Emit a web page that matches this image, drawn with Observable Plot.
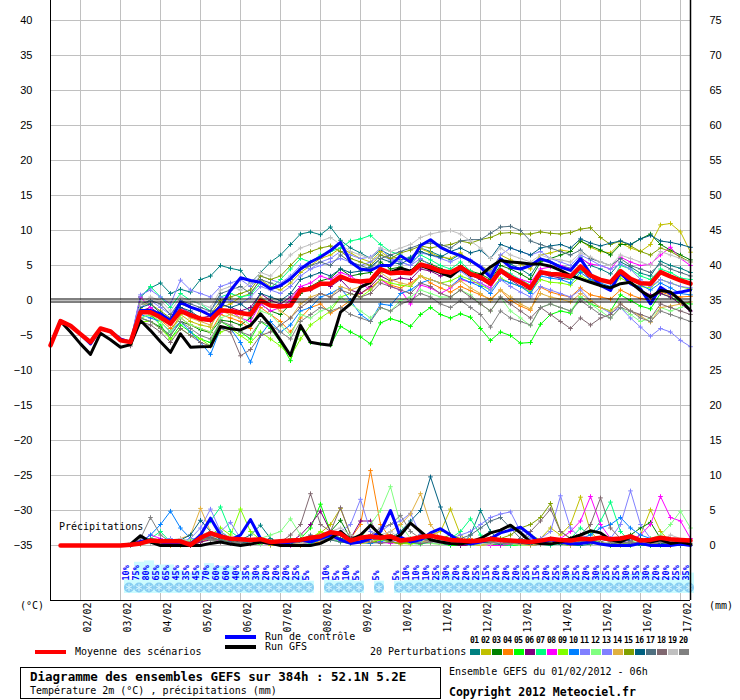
<!DOCTYPE html>
<html><head><meta charset="utf-8">
<script src="https://cdn.jsdelivr.net/npm/d3@7"></script>
<script src="https://cdn.jsdelivr.net/npm/@observablehq/plot@0.6"></script>
<style>
body{margin:0;background:#fff;}
#wrap{position:relative;width:740px;height:700px;overflow:hidden;font-family:"DejaVu Sans Mono",monospace;color:#000;}
#chart{position:absolute;left:0;top:0;}
.t{position:absolute;white-space:nowrap;font-size:10px;line-height:10px;color:#000;}
.bar{position:absolute;}
</style></head><body><div id="wrap"><div id="chart"></div></div>
<script>
// ---------- DATA ----------
const dayLabels = ["02/02","03/02","04/02","05/02","06/02","07/02","08/02","09/02","10/02","11/02","12/02","13/02","14/02","15/02","16/02","17/02"];
const tempTicks = [-35,-30,-25,-20,-15,-10,-5,0,5,10,15,20,25,30,35,40];

// 2m temperature, every 6h from 01/02 06h (h=0) to h=384
const meanTemp = [-6.4,-2.95,-3.6,-4.8,-5.95,-4.0,-4.4,-5.7,-5.95,-1.67, -1.67,-2.4,-3.3,-1.5,-2.1,-2.6,-2.8,-1.4,-1.5,-1.8, -2.0,0.0,-0.7,-0.86,-0.7,1.43,1.67,2.4,2.4,3.43, 2.86,2.7,2.86,4.5,3.9,4.0,3.9,5.14,4.76,4.2, 4.0,4.76,3.8,3.33,2.4,4.3,3.33,2.6,1.8,4.05, 3.8,3.7,3.43,4.86,3.57,2.95,2.6,4.2,3.1,2.48, 2.4,4.05,3.43,2.86,2.4];
const controlTemp = [-6.4,-2.95,-3.6,-4.8,-6.2,-4.0,-4.4,-5.5,-6.0,-1.43, -1.43,-1.9,-2.86,-0.24,-0.95,-1.43,-2.14,-0.95,1.43,3.24, 2.86,2.6,1.67,2.14,3.1,4.5,5.5,6.2,7.14,8.3, 5.5,4.5,4.3,5.0,5.0,6.4,5.5,7.86,8.67,7.6, 6.9,6.4,5.7,4.76,3.33,5.95,4.76,4.5,5.0,5.95, 5.5,4.76,4.3,5.95,3.8,2.14,1.43,4.05,2.4,1.67, -0.48,1.9,0.95,1.2,1.5];
const gfsTemp = [-6.4,-2.95,-4.5,-6.2,-7.7,-4.67,-5.6,-6.67,-6.3,-2.86, -4.3,-5.9,-7.4,-4.76,-6.67,-6.6,-6.57,-3.7,-4.05,-4.2, -3.57,-1.9,-3.57,-5.7,-7.86,-3.57,-5.95,-6.2,-6.4,-1.67, -0.48,1.9,2.6,4.3,4.0,4.6,4.2,5.0,4.5,4.0, 3.4,4.6,3.6,3.6,4.8,5.7,5.5,5.4,5.2,5.2, 4.9,4.3,3.57,3.1,2.6,2.14,1.8,2.4,2.6,1.43, 0.48,1.43,1.2,0.0,-1.43];

// 20 perturbations, every 6h from h=48 to h=384
const pertTemp = [
 [-5.8,0.5,1.8,2.5,1.0,1.6,1.2,3.0,3.5,5.0, 4.6,4.3,2.5,4.0,5.5,6.5,8.0,9.5,9.8,9.4, 10.5,8.6,7.5,6.8,6.0,7.2,6.5,5.8,6.2,7.5, 7.0,6.4,5.8,6.6,5.5,5.0,3.8,6.0,5.2,4.5, 3.6,5.8,5.5,5.0,4.6,6.2,5.0,4.5,3.8,5.5, 4.8,3.9,3.5,5.6,5.0,4.6,4.0],
 [-6.0,-1.0,-2.2,-3.0,-4.5,-2.0,-3.0,-3.5,-3.8,-1.0, -0.5,0.5,1.0,3.0,2.0,1.5,2.5,4.0,5.0,6.0, 6.5,7.5,6.8,6.0,5.5,7.0,6.0,6.2,5.8,7.4, 6.8,6.2,6.0,6.8,5.6,5.0,4.2,6.5,5.8,5.2, 4.5,6.5,6.8,7.2,7.0,8.5,7.6,7.0,6.8,8.2, 7.5,7.0,8.0,10.8,11.0,9.8,6.9],
 [-6.2,-2.5,-3.0,-3.8,-5.0,-3.0,-3.5,-4.2,-4.6,-2.8, -3.0,-3.5,-2.5,-0.5,-1.5,-2.0,-0.5,1.0,2.0,2.8, 3.2,4.5,3.5,3.8,4.0,5.5,4.5,4.8,4.2,5.8, 5.2,4.6,4.0,5.0,4.2,3.8,3.0,5.0,4.5,3.8, 3.0,5.5,6.0,6.5,7.0,8.5,7.8,7.2,6.5,8.0, 8.0,8.8,9.5,8.0,7.2,6.5,5.8],
 [-6.0,-2.0,-1.5,-2.8,-4.0,-2.5,-3.5,-4.0,-4.5,-2.0, -2.5,-3.0,-4.0,-1.0,-2.0,-3.0,-4.5,-2.5,-1.0,-0.5, -1.8,-1.0,0.0,1.0,1.8,3.0,2.2,1.8,2.5,3.5, 2.5,1.8,1.2,2.0,1.4,0.8,0.2,1.5,0.0,-0.8, -1.4,1.9,1.2,0.8,0.5,1.8,0.8,0.5,0.2,1.5, 0.8,0.3,0.0,1.2,0.8,0.5,0.6],
 [-6.0,-2.5,-2.0,-3.5,-5.5,-3.5,-4.5,-5.5,-6.0,-3.0, -3.8,-4.5,-5.5,-3.0,-4.0,-6.0,-8.6,-4.0,-6.0,-6.2, -6.4,-3.7,-4.5,-5.2,-6.2,-3.2,-2.6,-3.0,-3.7,-2.0, -1.0,-2.0,-2.5,-1.9,-2.4,-4.0,-5.7,-4.5,-5.0,-6.1, -6.0,-3.4,-2.0,-1.5,-1.8,0.5,-0.5,-1.0,-1.5,0.8, 0.0,-0.8,-1.2,1.0,0.5,-0.2,-0.5],
 [-6.0,-1.5,-1.0,-2.0,-3.0,-1.0,-1.8,-2.5,-2.2,-0.5, -1.0,-1.5,-1.0,1.0,0.0,-0.5,0.5,2.0,1.5,2.5, 2.0,3.0,1.5,1.0,2.0,3.5,2.8,3.2,3.0,4.5, 4.2,3.5,3.8,4.5,3.6,3.0,2.2,4.0,3.0,2.0, 1.5,3.8,3.5,3.2,3.0,4.5,3.0,2.2,1.8,3.6, 2.6,1.5,0.8,1.0,0.5,-0.5,-1.5],
 [-6.0,0.5,2.0,0.5,-1.0,1.0,0.0,-0.5,-1.5,0.5, 1.0,0.5,0.8,2.5,1.8,3.0,4.5,6.0,5.5,6.5, 7.0,7.5,8.5,8.8,9.3,8.0,7.0,6.5,5.5,6.5, 5.8,5.0,4.5,5.5,4.2,3.5,2.5,4.5,3.8,3.0, 2.2,4.2,3.8,3.5,3.0,4.2,3.5,2.8,2.5,5.0, 4.5,3.5,3.0,4.5,4.0,3.2,3.0],
 [-6.0,0.5,-1.0,-2.5,-3.5,-1.0,-2.0,-2.8,-3.0,-1.8, -1.5,-2.5,-3.0,-0.5,-1.5,-1.0,0.0,2.0,2.5,3.5, 3.0,4.0,3.5,2.5,1.5,3.0,2.0,1.5,-0.5,2.2, 1.8,1.0,1.8,3.0,2.6,2.5,1.8,4.0,3.5,3.0, 2.6,4.5,4.8,5.0,4.5,6.0,5.2,5.0,4.5,6.2, 5.5,5.0,5.2,6.5,7.6,6.0,5.0],
 [-6.2,-3.0,-3.0,-4.0,-5.5,-4.0,-5.0,-5.5,-6.5,-4.5, -4.0,-5.0,-6.0,-4.5,-5.5,-6.5,-8.0,-5.5,-3.5,-2.5, -1.5,0.5,1.0,0.5,1.5,3.0,2.5,2.2,2.0,3.5, 3.0,2.5,2.8,3.5,3.0,2.2,1.5,3.2,2.5,2.0, 1.2,3.0,2.6,2.5,2.2,3.5,2.8,2.2,1.8,3.2, 2.5,2.0,1.8,3.0,2.5,2.0,1.6],
 [-6.0,-2.0,-2.5,-3.0,-4.5,-3.0,-4.5,-6.0,-7.7,-4.0, -4.0,-6.0,-8.8,-5.0,-3.0,-4.5,-3.5,-1.5,-1.0,0.5, 1.0,1.8,0.0,-2.0,-3.0,-0.5,-0.7,1.0,1.5,2.5, 3.0,2.5,2.0,3.2,2.6,2.0,1.0,3.0,2.5,2.0, 1.0,3.5,3.2,3.0,2.5,4.0,3.0,2.5,2.0,3.8, 3.0,2.2,1.5,2.5,1.8,1.0,0.8],
 [-5.8,0.8,1.5,0.5,-0.5,2.9,1.5,1.0,0.5,2.0, 2.5,3.0,2.0,3.5,3.0,2.5,3.5,5.0,4.5,5.5, 6.0,7.0,6.5,6.0,6.2,7.5,6.0,5.5,5.0,6.0, 5.0,4.2,3.5,4.2,3.2,2.5,1.5,3.0,2.0,1.2, 0.5,2.0,1.5,1.0,0.5,1.5,0.0,-1.0,-1.8,-1.0, -2.5,-3.8,-5.1,-4.0,-4.5,-5.7,-6.6],
 [-6.0,-2.5,-2.0,-3.0,-4.5,-2.5,-3.5,-4.0,-4.5,-2.5, -2.0,-2.5,-3.5,-1.5,-2.0,-3.5,-5.0,-2.0,-2.5,-1.5, -1.0,0.5,-0.5,-1.5,-2.5,-1.0,-1.5,0.0,0.5,1.5, 1.0,0.5,0.5,1.5,0.8,-0.5,-1.5,0.5,-1.5,-2.5, -3.6,-1.0,-0.5,-1.0,-1.5,0.5,-0.5,-1.5,-2.5,-1.0, -2.0,-3.0,-2.5,-1.0,-1.5,-1.0,-0.5],
 [-6.0,-1.0,0.0,-1.0,-2.0,-0.5,-1.0,-1.5,-1.5,0.5, 0.0,-0.5,0.5,2.0,1.5,1.0,2.0,3.5,4.5,5.0, 5.5,6.0,5.5,5.0,5.5,6.5,5.8,5.5,5.0,6.8, 6.5,6.0,5.5,6.2,5.8,5.0,4.0,6.5,7.5,7.0, 6.5,7.0,6.0,5.5,5.0,6.5,5.8,5.0,4.5,5.2, 4.5,3.0,2.0,3.0,2.5,2.0,1.8],
 [-6.0,-1.5,-2.0,-2.5,-3.5,-1.5,-2.5,-3.0,-3.5,-1.5, -2.0,-2.5,-1.5,0.5,-0.5,-1.5,-2.5,-0.5,0.5,1.0, 0.5,2.0,1.5,2.0,2.5,4.0,3.0,2.5,2.2,3.5, 3.0,2.5,2.0,2.8,1.8,1.0,0.0,1.5,0.5,-0.5, -1.2,1.0,0.5,0.2,-0.2,1.0,0.0,-1.0,-1.5,-0.5, -1.5,-2.2,-3.1,-1.0,-0.8,-0.5,-0.2],
 [-6.0,-0.5,-0.5,-1.5,-2.5,-0.5,-1.0,-1.5,-2.0,0.0, 0.5,1.0,1.5,3.5,3.0,3.5,5.0,6.5,7.0,7.5, 7.8,7.0,6.0,5.5,5.0,6.5,6.0,6.8,7.2,7.8, 7.5,7.8,8.0,8.5,8.2,8.7,9.0,9.6,9.7,9.5, 9.5,9.8,9.6,9.5,9.7,10.2,10.4,9.0,8.0,8.5, 7.8,7.0,6.5,7.5,7.0,6.2,5.5],
 [-6.0,-1.0,-0.5,-1.8,-3.0,-1.0,-1.5,-2.5,-2.8,-0.5, -1.0,-0.5,-1.5,1.0,0.5,0.0,1.0,3.0,3.5,4.0, 3.5,4.5,4.0,4.2,4.8,6.0,5.5,5.2,6.0,7.0, 6.5,6.2,7.0,7.5,6.8,7.2,6.0,8.0,7.5,7.0, 6.5,7.5,7.8,8.0,7.5,8.8,8.2,7.8,8.2,8.5, 8.0,8.8,9.3,8.5,8.3,8.0,7.6],
 [-6.0,-0.5,0.0,-0.5,-2.0,0.0,-0.5,-1.0,-1.5,1.0, 1.5,2.0,1.0,3.0,2.5,2.0,3.0,4.5,5.0,5.5, 5.0,6.5,5.5,5.0,4.5,6.0,6.5,7.0,7.5,8.0, 8.2,8.0,7.5,8.5,8.7,8.7,9.6,10.5,10.6,10.0, 8.5,8.0,7.5,7.0,6.5,7.2,6.0,5.5,5.0,6.0, 5.0,4.5,4.0,5.2,4.5,4.0,3.5],
 [-6.5,-3.0,-3.5,-4.5,-6.0,-4.0,-5.0,-6.0,-6.5,-4.0, -4.5,-7.9,-7.0,-5.0,-4.5,-3.5,-2.5,-1.0,0.0,1.0, 0.5,1.5,1.0,0.5,1.0,2.5,2.0,1.5,1.0,2.5, 2.0,1.0,0.5,1.5,0.5,-0.5,-1.5,0.5,-0.5,-1.5, -2.5,-1.0,-2.0,-3.0,-4.0,-2.5,-3.5,-2.5,-2.0,-0.5, -1.5,-2.0,-2.5,-0.5,-1.0,-1.5,-2.0],
 [-6.0,-0.5,0.5,0.0,-1.5,0.5,0.0,-0.5,-1.0,1.5, 2.0,1.5,2.5,4.0,3.5,5.0,6.5,7.5,8.0,8.5, 9.0,8.0,7.0,6.5,6.0,7.5,7.0,7.5,8.0,9.0, 9.5,9.8,10.0,9.5,8.5,7.5,6.0,7.5,6.5,6.0, 5.5,6.5,6.0,5.8,5.5,6.8,6.2,5.5,5.0,6.5, 6.0,5.5,5.0,7.0,6.5,6.0,5.5],
 [-6.2,-2.5,-3.0,-4.0,-5.0,-3.0,-4.0,-5.0,-5.5,-3.0, -3.5,-4.5,-5.0,-3.0,-3.5,-4.5,-5.5,-3.0,-2.0,-1.0, -1.5,-1.0,-2.0,-2.5,-3.0,-1.0,-1.5,-0.5,0.0,1.0, 0.5,-0.5,-1.0,0.0,-1.0,-2.0,-3.8,-1.5,-2.5,-3.0, -3.5,-1.0,-0.5,-1.0,-1.5,0.0,-1.0,-2.0,-2.5,-1.0, -1.5,-2.5,-3.0,-1.5,-2.0,-2.5,-3.0]
];

// 6h precipitation (mm), from h=6 to h=384
const meanPrecip = [0,0,0,0,0,0,0, 0.1,0.3,0.7,0.6,0.6,0.6,0.1,1.1,1.76,1.3, 0.95,0.9,0.8,0.9,0.5,0.6,0.7,0.8,1.1,1.3, 1.9,1.67,0.7,1.1,1.3,1.1,1.3,0.7,0.9,1.2, 1.4,1.1,0.8,0.7,0.6,0.7,0.95,0.8,0.7,0.6, 0.5,0.7,0.95,0.8,0.7,0.95,0.9,1.1,0.9,1.0, 1.3,0.7,0.8,1.1,0.9,0.8,0.7];
const controlPrecip = [0,0,0,0,0,0,0, 0,0.6,0.8,0.5,0.3,0.5,0.2,1.5,3.9,1.5, 0.8,1.5,3.7,1.0,0.3,0.2,0.5,0.8,0.5,1.0, 1.5,0.8,0.3,0.5,1.0,2.0,5.0,1.2,0.5,0.8, 1.8,2.4,1.5,0.5,0.2,0.5,1.0,1.8,2.2,2.6, 1.5,0.3,0.8,0.5,0.2,0.3,0.5,0.2,0,0, 0,0.3,0,0,0,0.2,0];
const gfsPrecip = [0,0,0,0,0,0,0, 0.2,1.4,0.5,0,0,0,0,0,0.3,0.5, 0.2,0,0.2,0.5,0.3,0,0,0,0,0.3, 1.0,2.0,0.8,1.5,2.9,1.5,0.8,1.5,3.2,2.0, 0.8,0.5,0.3,0.2,0.5,1.0,1.8,2.2,2.9,1.8, 0.5,0.3,0.2,0.5,1.0,1.5,2.1,1.8,0.8,0.5, 1.2,0.8,0.5,0.8,0.3,0.5,0.2];

// perturbation precipitation, from h=48 to h=384
const pertPrecip = [
 [0,0.5,1.0,0.8,0.5,0.3,0,0.5,1.5,1.0, 0.5,0.8,1.5,2.9,1.0,0.3,0,0,0.2,0.8, 1.5,1.0,0.5,0.3,0.8,1.2,0.5,0.3,0.8,1.5, 1.0,0.5,0.2,0,1.5,5.0,2.0,0.5,0.3,0, 0,0.2,0.5,0.3,0,0,0.2,0.5,0,0, 0.3,0,0,0.2,0,0,0],
 [0,0.3,0.5,0.2,0,0,0,0.8,1.2,0.5, 0.3,0.5,0.8,0.5,0,0,0.2,0.5,1.0,1.8, 3.0,5.3,1.5,0.5,0.8,1.0,0.5,0.2,0.5,1.0, 1.5,2.0,5.2,1.5,0.3,0,0.2,0.5,0.3,0.2, 0.5,1.0,2.5,1.5,3.0,6.9,2.0,0.5,0.3,0.2, 0.5,1.5,5.1,2.0,0.5,0.3,0],
 [0,0.5,0.3,0.2,0.3,0.5,0.2,0.8,1.8,1.0, 0.5,0.3,0.5,0.8,0.3,0,0,0.2,0.5,1.5, 2.0,3.6,1.0,0.5,0.3,0.8,1.0,0.5,0.3,0.8, 1.0,0.5,0.3,0.2,0,0.3,0.5,0.2,0,0, 0.2,0.5,1.0,0.8,0.5,1.2,0.8,0.3,0.5,1.0, 1.5,2.5,3.3,1.0,0.3,0.2,0],
 [0,0.3,0.5,0.2,0,0.2,0,0.5,1.0,1.5, 0.8,0.5,0.3,0.5,0.2,0,0,0,0.3,0.5, 1.0,1.5,1.0,3.0,10.7,3.0,1.0,0.5,0.3,0.5, 0.8,0.5,0.3,0.5,1.0,0.5,0.2,0,0,0.3, 0.5,0.3,0.2,0.5,0.8,0.5,0.3,0.2,0,0, 0.2,0.3,0.5,0.2,0,0,0],
 [0,0.2,0.5,0.3,0.5,0.8,0.3,1.0,1.5,2.0, 1.0,0.5,0.3,0.2,0.5,0.3,0.5,1.0,2.5,5.9, 2.0,1.0,0.5,0.3,0.5,0.8,1.5,0.8,0.3,0.2, 0.5,0.3,0,0,0.2,0.5,0.3,0,0,0, 0.2,0.3,0.5,0.2,0,0.3,0.5,0.2,0,0, 0,0.2,0,0,0.3,0,0],
 [0,0.3,0.8,0.5,0.3,0.2,0,0.5,0.8,0.5, 0.3,0.5,1.0,0.5,0.2,0,0.5,1.5,3.0,4.9, 2.0,1.5,1.0,3.5,3.5,1.0,0.5,0.3,0.5,0.8, 0.5,0.3,0.2,0,0,0.3,0.5,0.8,0.5,0.3, 0,0.2,0.5,0.3,0.5,1.0,0.5,0.3,0.2,0.5, 1.0,0.5,0.3,0.5,0.2,0,0],
 [0,0.5,1.0,2.0,0.5,0.8,0.5,1.5,3.5,5.5, 2.0,1.0,0.5,0.8,0.5,0.3,1.0,0.5,0.3,0.8, 1.0,0.5,0.3,0.5,1.0,0.8,0.5,0.3,0.5,1.0, 0.8,0.5,1.0,2.0,3.8,1.5,0.5,0.2,0,0.3, 0.5,0.2,0,0.3,1.0,2.5,1.5,3.5,6.2,2.0, 0.5,0.3,0.2,0.5,0.3,0,0],
 [0,0.5,1.5,1.0,0.5,0.3,0.2,0.8,1.2,0.5, 0.3,0.5,0.8,0.3,0.2,0,0,0.3,0.5,1.0, 1.5,1.0,0.5,0.8,1.0,0.5,0.3,0.5,0.8,1.2, 1.0,0.5,0.3,0.2,0.5,0.3,0,0,0.2,0.5, 0.3,0.2,0.5,1.0,2.0,3.5,7.0,3.0,1.0,0.5, 0.8,1.5,3.0,7.0,4.0,3.5,1.0],
 [0,0.3,0.5,0.3,0.5,1.0,0.5,1.0,1.5,2.5, 1.5,5.2,2.0,0.8,0.5,0.3,0.5,0.8,1.0,2.0, 1.5,1.0,0.5,0.3,0.5,0.8,0.5,0.3,0.2,0.5, 0.3,0.2,0.5,0.3,0.2,0,0.5,1.0,0.8,0.5, 1.5,0.8,0.5,0.3,0.2,0.5,0.8,0.5,0.3,0.2, 0.3,0.5,0.2,0.8,0.5,0.3,0.2],
 [0,0.5,1.5,3.0,4.9,2.5,1.0,0.8,1.0,0.8, 0.5,0.3,0.8,0.5,0.2,0,0.3,0.5,1.0,0.8, 1.2,1.5,0.8,0.5,0.3,0.5,1.0,0.8,0.5,0.3, 0.5,0.3,0.2,0.5,0.3,0.8,1.0,0.5,0.3,0.2, 0.5,0.3,0.2,0.5,0.8,1.0,1.5,2.5,3.0,4.0, 2.5,1.5,1.0,0.5,0.3,0.2,0],
 [0,0.3,0.5,0.8,1.0,0.5,1.0,2.5,5.2,2.0, 1.0,0.5,0.3,0.5,0.3,0.2,0.5,0.3,0.5,1.0, 1.5,2.0,3.0,6.6,2.0,1.0,0.5,0.8,1.0,0.5, 0.3,0.5,1.0,1.5,2.0,3.0,4.0,4.5,4.8,2.0, 1.0,0.5,0.3,0.5,0.8,1.5,1.0,0.5,1.0,3.0, 7.8,3.0,1.0,0.5,0.3,0.2,0],
 [0,0.2,0.3,0.5,0.3,0.5,0.8,1.0,0.8,0.5, 0.3,0.5,0.8,1.0,1.5,2.0,3.8,1.5,0.5,1.0, 0.8,0.5,0.3,1.0,3.0,5.0,8.4,3.0,1.0,0.5, 0.3,0.2,0.5,0.3,0,0.2,0.3,0.5,0.2,0, 0,0.2,0.5,0.3,0.2,0.5,0.3,0.2,0.5,0.3, 0.5,0.8,1.0,1.5,3.0,4.9,2.5],
 [0,0.3,0.5,0.3,0.2,0.5,0.3,1.0,1.5,2.0, 3.3,1.0,0.5,0.3,0.2,0.5,0.3,0.2,0.5,0.8, 1.0,0.8,0.5,1.0,1.5,2.0,3.0,3.5,4.6,1.5, 0.8,0.5,0.3,0.5,0.8,0.5,0.3,0.2,0.5,0.3, 0.5,1.0,2.0,7.1,2.5,1.0,0.5,0.3,0.2,0.5, 0.3,0.2,0.5,0.8,0.5,0.3,0.2],
 [0,0.5,0.8,0.5,0.3,1.0,1.5,5.3,2.0,1.0, 0.5,0.3,0.2,0.5,0.3,0,0.2,0.3,0.5,0.8, 1.0,0.8,0.5,0.3,0.5,1.0,2.0,3.0,4.5,7.4, 3.0,1.0,0.5,0.3,0.2,0,0.3,0.5,0.3,0.2, 0,0.2,0.5,0.3,0,0.2,0.5,0.3,0.2,0, 0.2,0.3,0.5,0.3,0.2,0,0],
 [0,0.2,0.5,0.3,0.2,0.3,0.5,0.8,1.0,0.8, 0.5,0.3,0.5,0.8,0.5,0.3,0.5,0.8,1.0,1.5, 2.0,1.5,1.0,0.5,0.8,1.0,0.5,0.3,0.5,0.8, 0.5,1.0,1.5,1.0,0.5,0.3,0.5,1.0,1.5,2.5, 3.0,4.0,6.0,2.0,1.0,0.5,0.3,0.5,0.3,0.2, 0.5,0.3,0.2,0.5,0.3,0.2,0],
 [0,0.3,0.5,0.8,0.5,0.8,1.5,3.6,2.0,1.0, 0.8,0.5,0.3,0.5,0.3,0.2,0.3,0.5,0.8,1.0, 1.5,1.0,0.8,0.5,1.0,1.5,1.0,2.0,3.5,5.0, 9.8,5.5,1.5,0.5,0.3,0.5,0.3,0.2,0.5,0.3, 0.2,0.5,0.3,0.2,0.5,0.8,0.5,0.3,0.2,0.5, 0.8,1.0,0.5,0.3,0.2,0,0],
 [0,0.5,0.3,0.5,0.8,0.5,0.3,1.0,1.2,0.8, 0.5,0.3,0.5,0.8,0.5,0.3,0.5,0.8,1.5,1.0, 0.8,0.5,0.3,0.5,0.8,1.0,1.5,1.0,0.5,0.8, 1.0,0.5,0.8,1.0,1.5,2.5,3.5,4.0,2.5,1.0, 0.5,0.3,0.2,0.5,0.3,0.2,0.5,0.3,0.2,0.5, 0.3,0.5,0.8,0.5,0.3,0.2,0],
 [0,0.3,0.8,0.5,0.3,0.2,0.5,0.8,1.0,0.5, 0.3,0.5,0.8,0.5,0.3,0.5,1.5,3.0,7.4,3.0, 2.0,5.4,1.5,0.8,0.5,0.3,0.5,1.0,0.5,0.3, 0.5,0.8,0.5,0.3,0.2,0.5,1.0,0.5,0.3,0.8, 2.0,3.5,5.2,2.0,1.0,1.5,3.0,6.8,2.5,1.0, 0.5,0.3,0.5,0.8,0.5,0.3,0.2],
 [0,0.5,0.3,0.5,0.8,1.0,0.5,1.5,2.0,1.5, 1.0,0.8,0.5,0.3,0.5,0.8,0.5,0.3,1.0,1.5, 2.0,2.5,1.5,1.0,0.8,1.5,2.0,1.0,0.5,0.8, 0.5,0.3,0.5,0.8,0.5,0.3,0.2,0.5,0.8,0.5, 0.3,0.5,1.0,0.5,0.3,0.8,0.5,0.3,0.5,0.8, 1.0,0.5,0.3,0.5,1.5,1.0,0.5],
 [0,1.0,4.0,1.5,0.5,0.3,0.5,1.0,0.8,0.5, 0.3,0.5,0.8,0.5,0.3,0.2,0.5,0.8,1.0,0.8, 1.0,1.5,1.0,0.8,1.5,2.5,3.0,4.3,2.0,1.0, 0.5,0.8,0.5,0.3,0.5,0.8,0.5,0.3,0.2,0.5, 0.3,0.5,0.8,0.5,0.3,0.5,0.8,1.0,0.5,0.3, 0.5,0.3,0.2,0.5,0.3,0.2,0]
];
const pertColors = ["#008080","#c0c000","#008000","#ff8000","#00ff00","#800080","#00ff80","#ff00ff","#80ff00","#0080ff","#8080ff","#80ff80","#8080ff","#e0b040","#80a000","#006080","#507080","#806870","#c0c0c0","#808080"];

// probability of precipitation (%), every 6h from h=48 (null = none)
const probLabels = [10,75,80,65,65,45,35,45,70,60, 60,40,35,30,20,20,20,25,5,null, 10,5,10,5,null,5,null,5,10,10, 10,25,30,20,20,25,15,20,20,20, 25,15,20,25,30,25,20,30,25,25, 30,35,30,20,20,25,35];

// ---------- CONSTRUCTION ----------
const STEP = 6, ENS_START = 48, PRECIP_START = 6;
const PRECIP_ZERO = -35;               // 0 mm sits on -35 °C (right axis = left + 35)
const dayHours = dayLabels.map((d, i) => 18 + 24 * i);
const series = (vals, start, offset = 0) => vals.map((v, i) => ({h: start + i * STEP, v: v + offset}));
const probRows = probLabels.map((p, k) => ({h: ENS_START + k * STEP, p})).filter(d => d.p != null);

const MONO = "DejaVu Sans Mono, monospace";
const marks = [
  Plot.gridY(tempTicks, {stroke: "#c0c0c0", strokeOpacity: 1}),
  Plot.gridX(dayHours, {stroke: "#c0c0c0", strokeOpacity: 1}),
  // probability bars, icons and labels
  Plot.ruleX(probRows, {x: "h", y1: () => -41.86, y2: d => -40.29 + 0.0386 * d.p, stroke: "#ccfcff", strokeWidth: 10, dx: -1.5}),
  Plot.dot(probRows, {x: "h", frameAnchor: "bottom", dy: -13, dx: -1.5, r: 5, fill: "#86cdf2"}),
  Plot.dot(probRows, {x: "h", frameAnchor: "bottom", dy: -13, dx: -1.5, r: 3.5, symbol: "asterisk", stroke: "#d8f6ff", strokeWidth: 1}),
  Plot.text(probRows, {x: "h", text: d => d.p + "%", frameAnchor: "bottom", dy: -20, dx: -1.5, rotate: -90, textAnchor: "start",
    fill: "#0000ff", fontWeight: "bold", fontSize: 8.5, fontFamily: MONO})
];
// perturbations
pertColors.forEach((c, i) => {
  const pr = series(pertPrecip[i], ENS_START, PRECIP_ZERO);
  const tp = series(pertTemp[i], ENS_START);
  marks.push(
    Plot.line(pr, {x: "h", y: "v", stroke: c, strokeWidth: 1}),
    Plot.line(tp, {x: "h", y: "v", stroke: c, strokeWidth: 1}),
    Plot.dot(pr, {x: "h", y: "v", symbol: "plus", r: 1.6, stroke: c, strokeWidth: 1}),
    Plot.dot(tp, {x: "h", y: "v", symbol: "plus", r: 1.6, stroke: c, strokeWidth: 1})
  );
});
marks.push(
  Plot.line(series(controlPrecip, PRECIP_START, PRECIP_ZERO), {x: "h", y: "v", stroke: "#0000ff", strokeWidth: 3}),
  Plot.line(series(controlTemp, 0), {x: "h", y: "v", stroke: "#0000ff", strokeWidth: 3}),
  Plot.line(series(gfsPrecip, PRECIP_START, PRECIP_ZERO), {x: "h", y: "v", stroke: "#000000", strokeWidth: 3}),
  Plot.line(series(gfsTemp, 0), {x: "h", y: "v", stroke: "#000000", strokeWidth: 3}),
  Plot.line(series(meanPrecip, PRECIP_START, PRECIP_ZERO), {x: "h", y: "v", stroke: "#ff0000", strokeWidth: 4.5}),
  Plot.line(series(meanTemp, 0), {x: "h", y: "v", stroke: "#ff0000", strokeWidth: 4.5}),
  Plot.ruleY([0], {dy: -1.5, stroke: "#000"}),
  Plot.ruleY([0], {dy: 1.5, stroke: "#000"}),
  Plot.ruleX([0], {stroke: "#000"}),
  Plot.ruleX([384], {stroke: "#000", strokeWidth: 1.5}),
  Plot.ruleY([-300 / 7], {stroke: "#000"}),
  Plot.axisY(tempTicks, {anchor: "left", tickSize: 0, tickPadding: 18, fontSize: 11, fontFamily: "Liberation Sans, Arial, sans-serif", label: null}),
  Plot.axisY(tempTicks, {anchor: "right", tickSize: 0, tickPadding: 19, tickFormat: d => d - PRECIP_ZERO, fontSize: 11, fontFamily: "Liberation Sans, Arial, sans-serif", label: null}),
  Plot.axisX(dayHours, {tickFormat: h => dayLabels[dayHours.indexOf(h)], tickRotate: -90, tickSize: 0, tickPadding: 2, dx: 7, fontSize: 10, fontFamily: MONO, label: null})
);

const chart = Plot.plot({
  width: 740, height: 640,
  marginLeft: 50, marginRight: 50, marginTop: 0, marginBottom: 40,
  x: {domain: [0, 384]},
  y: {domain: [-300 / 7, 300 / 7]},
  style: {background: "#fff", color: "#000", overflow: "visible"},
  marks
});
document.getElementById("chart").appendChild(chart);

// ---------- HTML labels, legend, title ----------
const wrap = document.getElementById("wrap");
function txt(s, left, top, extra = "") {
  const d = document.createElement("div");
  d.className = "t"; d.textContent = s;
  d.style.cssText += `left:${left}px;top:${top}px;${extra}`;
  wrap.appendChild(d); return d;
}
function box(left, top, w, h, css) {
  const d = document.createElement("div");
  d.className = "bar";
  d.style.cssText = `left:${left}px;top:${top}px;width:${w}px;height:${h}px;${css}`;
  wrap.appendChild(d); return d;
}
txt("(°C)", 20, 601);
txt("(mm)", 709, 601);
txt("Précipitations", 59, 522);
box(225, 635, 31, 4, "background:#0000ff");
txt("Run de contrôle", 265, 632);
box(225, 645, 31, 4, "background:#000");
txt("Run GFS", 265, 642);
box(35, 650, 31, 4, "background:#ff0000");
txt("Moyenne des scénarios", 75, 647);
txt("20 Perturbations", 370, 647);
pertColors.forEach((c, i) => {
  box(470 + 11 * i, 649, 10, 6, `background:${c}`);
  txt(String(i + 1).padStart(2, "0"), 470 + 11 * i, 637, "font-size:8px;line-height:8px;font-weight:bold;letter-spacing:-0.5px;");
});
box(20, 667, 419, 30, "border:1px solid #000;");
txt("Diagramme des ensembles GEFS sur 384h : 52.1N 5.2E", 30, 671, "font-size:12.5px;line-height:12px;font-weight:bold;");
txt("Température 2m (°C) , précipitations (mm)", 30, 686);
txt("Ensemble GEFS du 01/02/2012 - 06h", 449, 667);
txt("Copyright 2012 Meteociel.fr", 449, 686, "font-size:11.5px;line-height:12px;font-weight:bold;");
</script>
</body></html>
